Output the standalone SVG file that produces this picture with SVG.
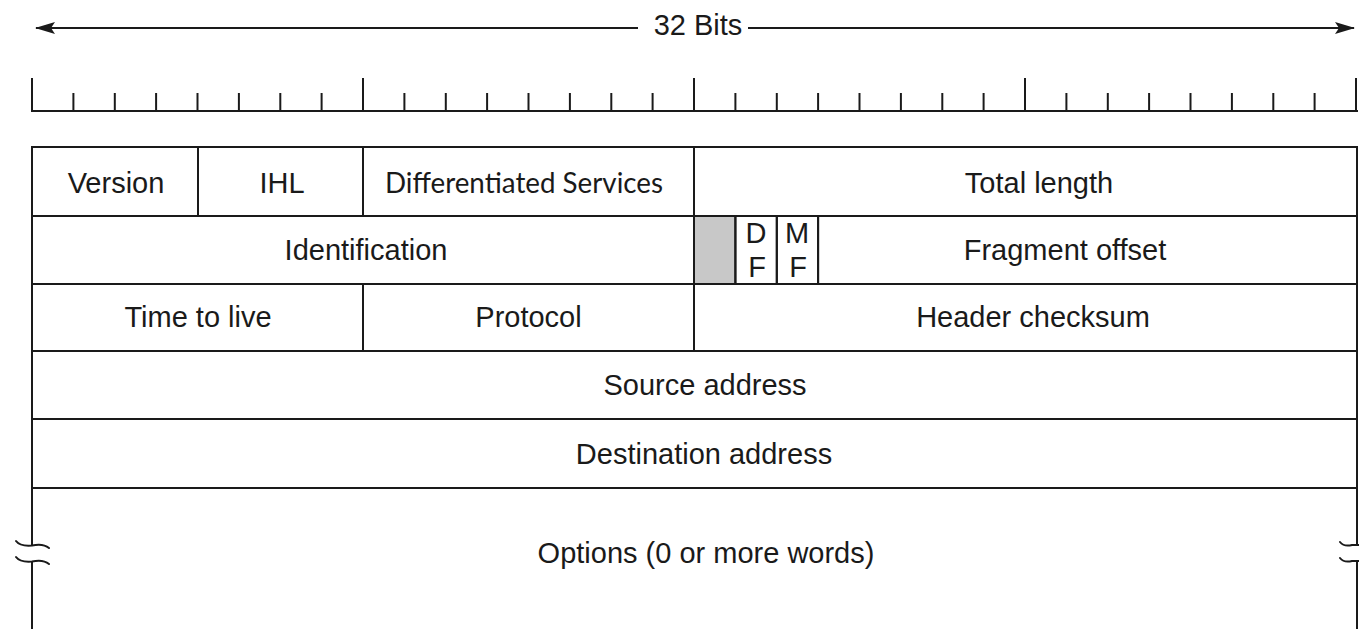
<svg xmlns="http://www.w3.org/2000/svg" width="1359" height="629" viewBox="0 0 1359 629">
<defs>
<style>
.t{font-family:"Liberation Sans",Arial,sans-serif;font-size:29px;fill:#1a1a1a;text-anchor:middle}
.ds{font-family:Lato,"Open Sans",sans-serif;font-size:28px;fill:#1a1a1a}
.ln{stroke:#1a1a1a;stroke-width:2;fill:none}
.tk{stroke:#1a1a1a;stroke-width:2}
.sq{stroke:#1a1a1a;stroke-width:2;fill:none;stroke-linecap:round}
</style>
<marker id="ah" viewBox="0 0 20 12" refX="19" refY="6" markerWidth="20" markerHeight="12" markerUnits="userSpaceOnUse" orient="auto-start-reverse">
<path d="M0,0 L20,6 L0,12 L4,6 Z" fill="#1a1a1a"/>
</marker>
</defs>
<rect width="1359" height="629" fill="#fff"/>

<g id="connectors">
<line class="ln" x1="36" y1="28" x2="638" y2="28" marker-start="url(#ah)"/>
<line class="ln" x1="748" y1="28" x2="1354" y2="28" marker-end="url(#ah)"/>
</g>
<g id="bits-label"><text class="t" x="698" y="35">32 Bits</text></g>

<g id="ruler">
<line class="tk" x1="31" y1="111" x2="1358" y2="111"/>
<line class="tk" x1="32" y1="78" x2="32" y2="111"/>
<line class="tk" x1="73.4" y1="93" x2="73.4" y2="111"/>
<line class="tk" x1="114.8" y1="93" x2="114.8" y2="111"/>
<line class="tk" x1="156.1" y1="93" x2="156.1" y2="111"/>
<line class="tk" x1="197.5" y1="93" x2="197.5" y2="111"/>
<line class="tk" x1="238.9" y1="93" x2="238.9" y2="111"/>
<line class="tk" x1="280.3" y1="93" x2="280.3" y2="111"/>
<line class="tk" x1="321.6" y1="93" x2="321.6" y2="111"/>
<line class="tk" x1="363" y1="78" x2="363" y2="111"/>
<line class="tk" x1="404.4" y1="93" x2="404.4" y2="111"/>
<line class="tk" x1="445.8" y1="93" x2="445.8" y2="111"/>
<line class="tk" x1="487.1" y1="93" x2="487.1" y2="111"/>
<line class="tk" x1="528.5" y1="93" x2="528.5" y2="111"/>
<line class="tk" x1="569.9" y1="93" x2="569.9" y2="111"/>
<line class="tk" x1="611.3" y1="93" x2="611.3" y2="111"/>
<line class="tk" x1="652.6" y1="93" x2="652.6" y2="111"/>
<line class="tk" x1="694" y1="78" x2="694" y2="111"/>
<line class="tk" x1="735.4" y1="93" x2="735.4" y2="111"/>
<line class="tk" x1="776.8" y1="93" x2="776.8" y2="111"/>
<line class="tk" x1="818.1" y1="93" x2="818.1" y2="111"/>
<line class="tk" x1="859.5" y1="93" x2="859.5" y2="111"/>
<line class="tk" x1="900.9" y1="93" x2="900.9" y2="111"/>
<line class="tk" x1="942.3" y1="93" x2="942.3" y2="111"/>
<line class="tk" x1="983.6" y1="93" x2="983.6" y2="111"/>
<line class="tk" x1="1025" y1="78" x2="1025" y2="111"/>
<line class="tk" x1="1066.4" y1="93" x2="1066.4" y2="111"/>
<line class="tk" x1="1107.8" y1="93" x2="1107.8" y2="111"/>
<line class="tk" x1="1149.1" y1="93" x2="1149.1" y2="111"/>
<line class="tk" x1="1190.5" y1="93" x2="1190.5" y2="111"/>
<line class="tk" x1="1231.9" y1="93" x2="1231.9" y2="111"/>
<line class="tk" x1="1273.3" y1="93" x2="1273.3" y2="111"/>
<line class="tk" x1="1314.6" y1="93" x2="1314.6" y2="111"/>
<line class="tk" x1="1356" y1="78" x2="1356" y2="111"/>
</g>

<g id="version"><rect class="ln" x="32" y="147" width="166" height="69"/><text class="t" x="116" y="193">Version</text></g>
<g id="ihl"><rect class="ln" x="198" y="147" width="165" height="69"/><text class="t" x="282" y="193">IHL</text></g>
<g id="diff-services"><rect class="ln" x="363" y="147" width="331" height="69"/><text class="ds" x="385" y="193" textLength="278" lengthAdjust="spacingAndGlyphs">Differentiated Services</text></g>
<g id="total-length"><rect class="ln" x="694" y="147" width="663" height="69"/><text class="t" x="1039" y="193">Total length</text></g>

<g id="identification"><rect class="ln" x="32" y="216" width="662" height="68"/><text class="t" x="366" y="260">Identification</text></g>
<g id="reserved"><rect x="694" y="216" width="41.4" height="68" fill="#c8c8c8" stroke="#1a1a1a" stroke-width="2"/></g>
<g id="df"><rect class="ln" x="735.4" y="216" width="41.4" height="68"/><text class="t" x="756" y="243">D</text><text class="t" x="757" y="277">F</text></g>
<g id="mf"><rect class="ln" x="776.8" y="216" width="41.3" height="68"/><text class="t" x="797" y="243">M</text><text class="t" x="798" y="277">F</text></g>
<g id="fragment-offset"><rect class="ln" x="818.1" y="216" width="538.9" height="68"/><text class="t" x="1065" y="260">Fragment offset</text></g>

<g id="ttl"><rect class="ln" x="32" y="284" width="331" height="67"/><text class="t" x="198" y="327">Time to live</text></g>
<g id="protocol"><rect class="ln" x="363" y="284" width="331" height="67"/><text class="t" x="528.5" y="327">Protocol</text></g>
<g id="header-checksum"><rect class="ln" x="694" y="284" width="663" height="67"/><text class="t" x="1033" y="327">Header checksum</text></g>

<g id="source-address"><rect class="ln" x="32" y="351" width="1325" height="68"/><text class="t" x="705" y="395">Source address</text></g>
<g id="destination-address"><rect class="ln" x="32" y="419" width="1325" height="69"/><text class="t" x="704" y="464">Destination address</text></g>

<g id="options">
<path class="ln" d="M32,488 H1357"/>
<path class="ln" d="M32,488 V545 M32,561 V629"/>
<path class="ln" d="M1357,488 V544 M1357,561 V629"/>
<path class="sq" d="M16,541 Q20,546.5 32,545.5 Q43,543 49,548"/>
<path class="sq" d="M16,557 Q20,562.5 32,561.5 Q43,559 49,564"/>
<path class="sq" d="M1340,542 Q1344,547 1352,545 L1359,545"/>
<path class="sq" d="M1340,558 Q1344,563 1352,561 L1359,561"/>
<text class="t" x="706" y="563">Options (0 or more words)</text>
</g>
</svg>
